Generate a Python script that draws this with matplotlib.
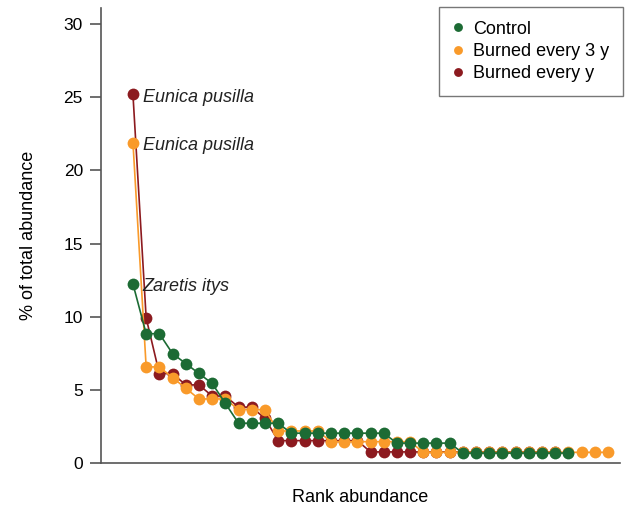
import numpy as np
import matplotlib.pyplot as plt

plt.rcParams['font.family'] = ['Liberation Sans', 'DejaVu Sans']

# % of total abundance, species ranked from most to least abundant
control = [12.24, 8.84, 8.84, 7.48, 6.80, 6.12, 5.44, 4.08,
           2.72, 2.72, 2.72, 2.72,
           2.04, 2.04, 2.04, 2.04, 2.04, 2.04, 2.04, 2.04,
           1.36, 1.36, 1.36, 1.36, 1.36,
           0.68, 0.68, 0.68, 0.68, 0.68, 0.68, 0.68, 0.68, 0.68]
burned_3y = [21.90, 6.57, 6.57, 5.84, 5.11, 4.38, 4.38, 4.38,
             3.65, 3.65, 3.65,
             2.19, 2.19, 2.19, 2.19,
             1.46, 1.46, 1.46, 1.46, 1.46, 1.46, 1.46,
             0.73, 0.73, 0.73, 0.73, 0.73, 0.73, 0.73, 0.73,
             0.73, 0.73, 0.73, 0.73, 0.73, 0.73, 0.73]
burned_1y = [25.19, 9.92, 6.11, 6.11, 5.34, 5.34, 4.58, 4.58,
             3.82, 3.82, 3.05,
             1.53, 1.53, 1.53, 1.53, 1.53, 1.53, 1.53,
             0.76, 0.76, 0.76, 0.76, 0.76, 0.76, 0.76, 0.76,
             0.76, 0.76, 0.76, 0.76, 0.76, 0.76, 0.76]

series_names = ['Control', 'Burned every 3 y', 'Burned every y']
colors = ['#1c6b34', '#f99a2a', '#8c1a1f']
top_species = ['Zaretis itys', 'Eunica pusilla', 'Eunica pusilla']

fig = plt.figure(figsize=(6.29, 5.11), dpi=100)
ax = fig.add_axes([0.1606, 0.0939, 0.825, 0.8904])

all_series = [control, burned_3y, burned_1y]
zorders = [3, 2, 1]
for vals, name, col, z in zip(all_series, series_names, colors, zorders):
    ranks = np.arange(1, len(vals) + 1)
    ax.plot(ranks, vals, '-', color=col, lw=1.2, zorder=z)
    ax.plot(ranks, vals, 'o', color=col, ms=8.5, mec='none', zorder=z + 0.5,
            label=name)

for vals, sp in zip(all_series, top_species):
    ax.annotate(sp, (1, vals[0]), xytext=(7, -2), textcoords='offset points',
                va='center', ha='left', fontsize=13, style='italic',
                color='#222222')

ax.set_xlim(-1.42, 37.9)
ax.set_ylim(0, 31.1)
ax.set_yticks([0, 5, 10, 15, 20, 25, 30])
ax.set_xticks([])
for s in ['top', 'right']:
    ax.spines[s].set_visible(False)
for s in ['left', 'bottom']:
    ax.spines[s].set_color('#555555')
    ax.spines[s].set_linewidth(1.2)
ax.tick_params(axis='y', length=8, width=1.2, color='#555555',
               labelsize=12.5, pad=5)
ax.set_ylabel('% of total abundance', fontsize=13, labelpad=19)
ax.set_xlabel('Rank abundance', fontsize=13, labelpad=19)

leg = ax.legend(loc='upper right', bbox_to_anchor=(623 / 629, 1 - 7 / 511),
                bbox_transform=fig.transFigure, borderaxespad=0,
                fontsize=13, frameon=True, fancybox=False, handlelength=0.6,
                handletextpad=0.55, markerscale=0.75, borderpad=0.75,
                labelspacing=0.3)
leg.get_frame().set_edgecolor('#555555')
leg.get_frame().set_linewidth(1.0)

fig.savefig('out.png', dpi=100)
